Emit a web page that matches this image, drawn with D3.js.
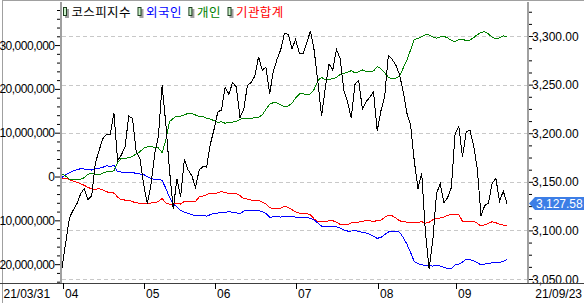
<!DOCTYPE html>
<html>
<head>
<meta charset="utf-8">
<script src="https://cdn.jsdelivr.net/npm/d3@7"></script>
<style>
  body { margin: 0; background: #fff; }
  svg { display: block; font-family: "Liberation Sans", Arial, sans-serif; }
</style>
</head>
<body>
<svg id="chart" width="584" height="303"></svg>
<script>
// KOSPI index, one value per trading day 21/03/31 .. 21/09/23
const kospi = [
  3061.42, 3087.40, 3112.80, 3120.83, 3127.20, 3137.45, 3143.26, 3131.88, 3135.59, 3169.08,
  3182.38, 3194.33, 3198.84, 3198.62, 3220.70, 3171.66, 3177.52, 3186.10, 3217.53, 3215.42,
  3181.47, 3174.07, 3147.86, 3127.20, 3147.37, 3178.74, 3197.20, 3249.30, 3209.43, 3161.66,
  3122.11, 3153.32, 3134.52, 3173.05, 3162.28, 3156.42, 3144.30, 3162.28, 3165.51, 3165.23,
  3188.73, 3203.92, 3221.87, 3223.85, 3247.43, 3240.08, 3252.12, 3247.83, 3216.18, 3224.36,
  3249.32, 3252.13, 3258.63, 3278.68, 3264.96, 3267.93, 3240.79, 3263.88, 3276.19, 3286.10,
  3302.84, 3301.89, 3286.68, 3296.68, 3282.06, 3281.78, 3293.21, 3305.21, 3285.34, 3252.68,
  3217.95, 3246.47, 3271.38, 3264.81, 3286.22, 3276.91, 3244.04, 3232.70, 3215.51, 3250.21,
  3254.42, 3224.95, 3232.53, 3236.86, 3242.65, 3202.32, 3223.04, 3237.14, 3280.38, 3276.13,
  3270.36, 3260.42, 3243.19, 3220.70, 3208.38, 3171.29, 3143.09, 3158.93, 3097.83, 3060.51,
  3090.21, 3138.30, 3148.00, 3128.53, 3133.90, 3144.19, 3199.27, 3207.02, 3175.85, 3201.06,
  3203.33, 3187.42, 3162.99, 3114.70, 3125.76, 3127.86, 3148.83, 3153.40, 3130.09, 3140.51,
  3127.58
]

// cumulative net buying, in millions (left axis shows x 1,000,000)
const foreign = [
  -0.18, 0.41, 0.87, 1.26, 1.55, 1.78, 1.71, 1.64, 1.48, 1.78,
  1.87, 2.10, 2.47, 2.24, 2.56, 1.10, 1.03, 0.96, 1.03, 1.03,
  0.64, 0.57, 0.50, -0.05, -0.50, -0.64, -0.64, -0.87, -2.69, -4.75,
  -6.28, -6.96, -7.72, -8.11, -8.40, -8.72, -8.86, -8.86, -8.86, -9.02,
  -8.72, -8.40, -8.33, -8.26, -8.17, -8.04, -8.17, -8.26, -8.49, -7.88,
  -7.72, -7.72, -7.72, -7.72, -8.04, -8.40, -9.32, -9.18, -9.18, -9.25,
  -9.18, -9.18, -9.18, -9.25, -9.41, -9.41, -9.32, -9.54, -9.93, -10.62,
  -11.30, -11.37, -11.37, -11.46, -11.46, -11.76, -12.21, -12.44, -12.44, -12.37,
  -12.51, -12.74, -12.90, -13.20, -13.65, -14.11, -13.88, -13.29, -12.67, -12.51,
  -12.51, -12.67, -13.88, -15.41, -17.31, -19.41, -19.91, -20.14, -20.27, -20.37,
  -20.43, -20.37, -20.43, -20.73, -21.05, -20.96, -20.21, -19.98, -19.52, -18.90,
  -19.00, -19.22, -19.68, -20.14, -19.98, -19.82, -19.68, -19.59, -19.59, -19.36,
  -18.90
]

const retail = [
  0.57, 0.11, -0.64, -0.73, -0.64, -0.64, -0.27, 0.50, 0.80, 0.50,
  0.41, 0.80, 1.10, 1.10, 1.32, 3.15, 4.16, 4.16, 4.29, 4.61,
  5.14, 5.66, 6.44, 6.80, 6.80, 6.67, 6.51, 5.43, 8.33, 12.51,
  13.29, 13.81, 13.81, 14.04, 14.43, 14.43, 14.04, 13.65, 13.65, 13.29,
  13.13, 12.74, 12.37, 12.51, 12.15, 12.44, 12.44, 12.60, 13.06, 13.29,
  13.13, 13.29, 13.42, 13.52, 14.04, 15.34, 16.55, 16.85, 16.78, 16.39,
  15.94, 16.10, 16.71, 17.92, 18.84, 18.90, 18.68, 18.84, 19.91, 21.87,
  22.65, 22.03, 22.19, 22.33, 22.56, 23.33, 23.56, 23.79, 24.16, 23.63,
  23.93, 24.32, 23.93, 23.93, 24.09, 25.07, 24.61, 23.70, 22.65, 22.33,
  22.42, 22.95, 24.70, 26.60, 28.88, 31.28, 31.55, 31.92, 32.31, 32.31,
  31.85, 31.55, 31.85, 32.01, 31.62, 31.10, 30.78, 31.23, 31.32, 31.00,
  31.16, 31.69, 32.37, 32.92, 33.06, 32.53, 31.78, 31.39, 31.69, 32.08,
  31.92
]

const institution = [
  -0.41, -0.34, -0.73, -1.03, -1.32, -1.64, -2.01, -2.47, -2.85, -2.92,
  -2.79, -3.01, -3.47, -3.70, -3.77, -4.68, -5.30, -5.37, -5.37, -5.75,
  -5.98, -6.12, -6.12, -6.21, -6.05, -5.98, -5.75, -4.98, -6.05, -6.28,
  -6.35, -6.12, -6.28, -5.66, -5.75, -5.75, -5.66, -4.68, -4.45, -4.16,
  -3.77, -3.93, -3.70, -3.47, -3.61, -3.93, -3.84, -3.84, -4.38, -5.07,
  -5.14, -5.37, -5.37, -5.43, -5.82, -6.21, -7.12, -7.26, -7.26, -7.19,
  -6.74, -7.03, -7.58, -8.04, -8.33, -8.49, -8.49, -8.72, -9.70, -10.32,
  -10.16, -10.32, -10.09, -10.09, -10.39, -10.91, -10.91, -11.00, -10.55, -10.39,
  -10.39, -10.23, -10.00, -10.09, -10.32, -10.00, -10.00, -9.32, -8.79, -8.95,
  -9.47, -10.09, -10.32, -10.39, -10.39, -10.39, -10.46, -10.32, -10.62, -10.46,
  -9.86, -9.54, -9.47, -9.25, -8.86, -8.56, -8.56, -8.63, -10.23, -10.23,
  -10.23, -10.23, -10.68, -11.30, -11.00, -10.68, -10.32, -10.55, -10.91, -11.07,
  -11.30
]

// x axis: first / last date and month starts (index into the daily arrays)
const firstDate = "21/03/31"
const lastDate = "21/09/23"
const monthIdx = [1, 23, 42, 64, 86, 107]
const monthLabels = ["04", "05", "06", "07", "08", "09"]

const leftTicks = [-20, -10, 0, 10, 20, 30]
const rightTicks = [3050, 3100, 3150, 3200, 3250, 3300]

const legendNames = ["코스피지수", "외국인", "개인", "기관합계"]
const legendColors = ["#000000", "#0000ff", "#008000", "#ff0000"]

let svg = d3.select("#chart")
let W = 584, H = 303
let plotLeft = 61, plotRight = 528, plotTop = 2, plotBottom = 283

let x = d3.scaleLinear()
  .domain([0, kospi.length - 1])
  .range([62, 507])

let yL = d3.scaleLinear()
  .domain([-24.3, 39.6])
  .range([plotBottom, 3])

let yR = d3.scaleLinear()
  .domain([3045.9, 3334])
  .range([plotBottom, 3])

//frame
svg.append("line")
  .attr("x1", 2).attr("x2", W).attr("y1", 0.5).attr("y2", 0.5)
  .attr("stroke", "#a0a0a0")
svg.append("line")
  .attr("x1", 2.5).attr("x2", 2.5).attr("y1", 0).attr("y2", H)
  .attr("stroke", "#a0a0a0")

//grid lines on the right axis ticks
svg.append("g")
  .selectAll("line")
  .data(rightTicks)
  .enter().append("line")
  .attr("x1", plotLeft + 1).attr("x2", plotRight - 1)
  .attr("y1", d => Math.round(yR(d)) + 0.5)
  .attr("y2", d => Math.round(yR(d)) + 0.5)
  .attr("stroke", "#c8c8c8")
  .attr("stroke-dasharray", "4,3")

//left axis
let axL = svg.append("g")
  .attr("transform", "translate(" + plotLeft + ",0)")
  .call(d3.axisLeft(yL).tickValues(d3.range(-24, 40, 2)).tickSize(4).tickFormat(""))
axL.select(".domain").remove()
axL.selectAll(".tick line").attr("stroke", "#000")
  .attr("x1", -1)
axL.selectAll(".tick")
  .filter(d => leftTicks.indexOf(d) >= 0)
  .select("line").attr("x2", -6)

svg.append("g")
  .selectAll("text")
  .data(leftTicks)
  .enter().append("text")
  .attr("x", 54.5)
  .attr("y", d => yL(d) + 4.5)
  .attr("text-anchor", "end")
  .style("font-size", "12px")
  .style("letter-spacing", "-0.5px")
  .text(d => d3.format(",")(d * 1000000))

//right axis
let axR = svg.append("g")
  .attr("transform", "translate(" + plotRight + ",0)")
  .call(d3.axisRight(yR).tickValues(d3.range(3050, 3334, 12.5)).tickSize(4).tickFormat(""))
axR.select(".domain").remove()
axR.selectAll(".tick line").attr("stroke", "#000").attr("x1", 1)
axR.selectAll(".tick")
  .filter(d => rightTicks.indexOf(d) >= 0)
  .select("line").attr("x2", 5)

svg.append("g")
  .selectAll("text")
  .data(rightTicks)
  .enter().append("text")
  .attr("x", 532)
  .attr("y", d => yR(d) + 4.5)
  .style("font-size", "12px")
  .text(d => d3.format(",.2f")(d))

//axis lines
svg.append("rect")
  .attr("x", plotLeft - 1).attr("y", plotTop).attr("width", 2).attr("height", plotBottom - plotTop)
  .attr("fill", "#a0a0a0")
svg.append("rect")
  .attr("x", plotRight - 1).attr("y", plotTop).attr("width", 2).attr("height", plotBottom - plotTop)
  .attr("fill", "#a0a0a0")
svg.append("line")
  .attr("x1", 0).attr("x2", W).attr("y1", plotBottom + 0.5).attr("y2", plotBottom + 0.5)
  .attr("stroke", "#404040")

//x axis ticks and labels
svg.append("g")
  .selectAll("line")
  .data(monthIdx)
  .enter().append("line")
  .attr("x1", d => Math.round(x(d)) - 2.5)
  .attr("x2", d => Math.round(x(d)) - 2.5)
  .attr("y1", plotBottom).attr("y2", plotBottom + 6)
  .attr("stroke", "#000")

svg.append("g")
  .selectAll("text")
  .data(monthIdx)
  .enter().append("text")
  .attr("x", d => Math.round(x(d)) - 1)
  .attr("y", 298)
  .style("font-size", "12px")
  .text((d, i) => monthLabels[i])

svg.append("text")
  .attr("x", 3.5).attr("y", 298)
  .style("font-size", "12px")
  .text(firstDate)
svg.append("text")
  .attr("x", 582).attr("y", 298)
  .attr("text-anchor", "end")
  .style("font-size", "12px")
  .text(lastDate)

//series lines
let lineL = d3.line().x((d, i) => x(i)).y(d => yL(d))
let lineR = d3.line().x((d, i) => x(i)).y(d => yR(d))

let series = [
  {data: institution, color: "#ff0000", line: lineL},
  {data: foreign, color: "#0000ff", line: lineL},
  {data: retail, color: "#008000", line: lineL},
  {data: kospi, color: "#000000", line: lineR}
]
series.forEach(s => {
  svg.append("path")
    .attr("d", s.line(s.data))
    .attr("fill", "none")
    .attr("stroke", s.color)
    .attr("stroke-width", 1)
    .attr("shape-rendering", "crispEdges")
})

//legend
let lx = 63
legendNames.forEach((name, i) => {
  svg.append("rect")
    .attr("x", lx + 2).attr("y", 9).attr("width", 4).attr("height", 9)
    .attr("fill", "#a0a0a0")
  svg.append("rect")
    .attr("x", lx + 0.5).attr("y", 7.5).attr("width", 3).attr("height", 8)
    .attr("fill", "#c8f0c8").attr("stroke", "#204020")
  let w = name.length * 11.8
  svg.append("text")
    .attr("x", lx + 8.5).attr("y", 16.5)
    .attr("fill", legendColors[i])
    .attr("textLength", w)
    .attr("lengthAdjust", "spacing")
    .style("font-family", "'Noto Sans CJK KR', sans-serif")
    .style("font-size", "12.5px")
    .text(name)
  lx = lx + 8.5 + w + 7
})

//current value tag
let last = kospi[kospi.length - 1]
let ty = yR(last)
svg.append("path")
  .attr("d", "M529," + ty + "L535," + (ty - 6.5) + "L584," + (ty - 6.5) + "L584," + (ty + 6.5) + "L535," + (ty + 6.5) + "Z")
  .attr("fill", "#3c7ee6")
svg.append("text")
  .attr("x", 536).attr("y", ty + 4.5)
  .attr("fill", "#fff")
  .style("font-size", "12px")
  .text(d3.format(",.2f")(last))
</script>
</body>
</html>
